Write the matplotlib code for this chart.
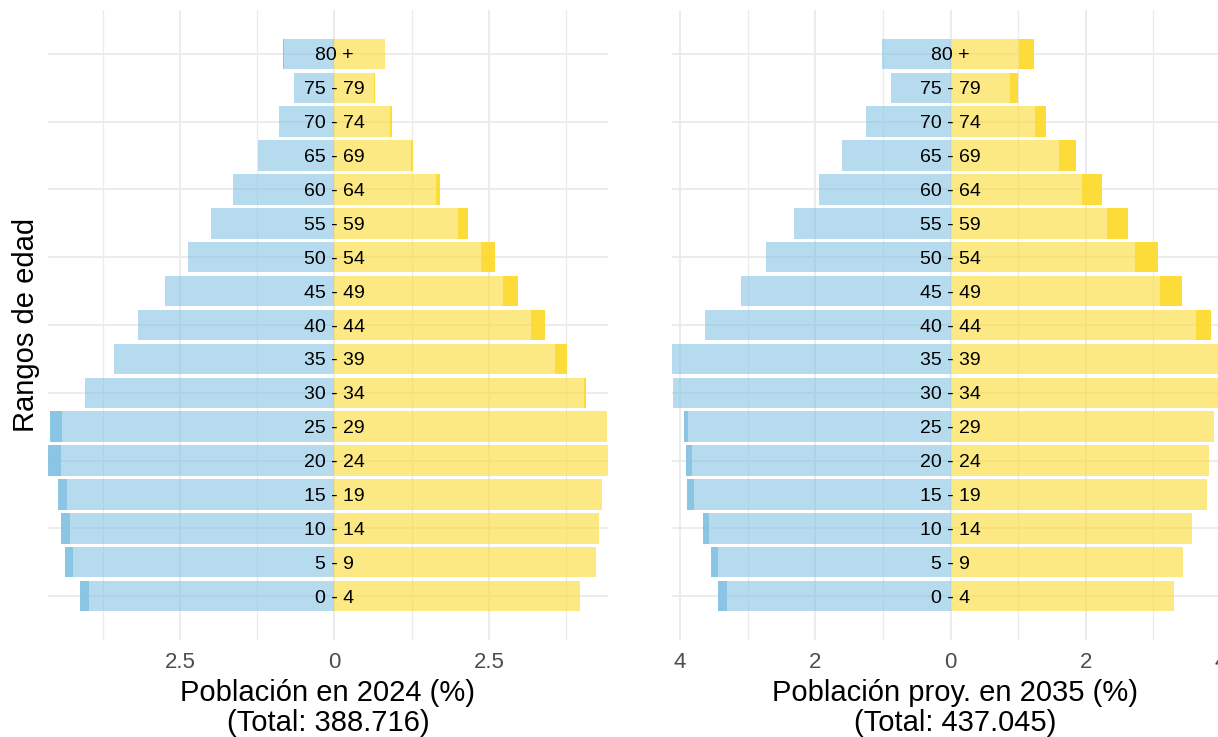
import numpy as np
import matplotlib.pyplot as plt

plt.rcParams['font.family'] = ['Liberation Sans', 'DejaVu Sans']

grupos = ['0 - 4', '5 - 9', '10 - 14', '15 - 19', '20 - 24', '25 - 29', '30 - 34',
          '35 - 39', '40 - 44', '45 - 49', '50 - 54', '55 - 59', '60 - 64',
          '65 - 69', '70 - 74', '75 - 79', '80 +']

# porcentajes sobre el total de cada año
hombres_2024 = [4.124, 4.366, 4.430, 4.478, 4.640, 4.608, 4.040, 3.570, 3.180,
                2.737, 2.370, 1.995, 1.645, 1.240, 0.900, 0.648, 0.833]
mujeres_2024 = [3.970, 4.230, 4.290, 4.330, 4.430, 4.420, 4.074, 3.766, 3.410,
                2.973, 2.600, 2.163, 1.710, 1.272, 0.935, 0.658, 0.818]
hombres_2035 = [3.440, 3.540, 3.660, 3.900, 3.910, 3.940, 4.100, 4.120, 3.627,
                3.095, 2.726, 2.313, 1.944, 1.604, 1.250, 0.875, 1.014]
mujeres_2035 = [3.300, 3.440, 3.570, 3.790, 3.820, 3.890, 4.180, 4.250, 3.850,
                3.421, 3.067, 2.623, 2.239, 1.855, 1.411, 0.998, 1.239]

titulos = ['Población en 2024 (%)\n(Total: 388.716)',
           'Población proy. en 2035 (%)\n(Total: 437.045)']

azul = '#86C3E3'
amarillo = '#FDDB33'
gris_grid = '#EBEBEB'

W, H = 1218, 737
fig = plt.figure(figsize=(W / 100, H / 100), dpi=100)

def caja(x0, x1, y0, y1):
    return [x0 / W, 1 - y1 / H, (x1 - x0) / W, (y1 - y0) / H]

ax1 = fig.add_axes(caja(48, 608, 10, 640))
ax2 = fig.add_axes(caja(672, 1238, 10, 640))

def piramide(ax, hom, muj, mayores, menores, titulo):
    hom = np.array(hom)
    muj = np.array(muj)
    y = np.arange(len(grupos))
    comun = np.minimum(hom, muj)
    # parte común (transparente) y exceso de cada sexo (más intenso)
    ax.barh(y, -comun, height=0.9, color=azul, alpha=0.6, linewidth=0, zorder=2)
    ax.barh(y, -(hom - comun), left=-comun, height=0.9, color=azul, alpha=0.97,
            linewidth=0, zorder=2)
    ax.barh(y, comun, height=0.9, color=amarillo, alpha=0.6, linewidth=0, zorder=2)
    ax.barh(y, muj - comun, left=comun, height=0.9, color=amarillo, alpha=0.97,
            linewidth=0, zorder=2)
    for yi, g in zip(y, grupos):
        ax.text(0, yi, g, ha='center', va='center_baseline', fontsize=14,
                color='black', zorder=3)

    ax.set_xlim(-hom.max(), muj.max())
    ax.set_ylim(-1.295, len(grupos) - 1 + 1.295)
    ax.set_xticks(mayores)
    ax.set_xticklabels([('%g' % abs(v)) for v in mayores])
    ax.set_xticks(menores, minor=True)
    ax.set_yticks(np.arange(0, len(grupos), 2))
    ax.set_yticklabels([])
    ax.grid(which='major', color=gris_grid, linewidth=1.3, zorder=0)
    ax.grid(which='minor', axis='x', color=gris_grid, linewidth=0.9, zorder=0)
    ax.set_axisbelow(True)
    ax.tick_params(which='both', length=0)
    ax.tick_params(axis='x', labelsize=16, labelcolor='#4D4D4D', pad=9)
    for s in ax.spines.values():
        s.set_visible(False)
    ax.set_xlabel(titulo, fontsize=21, linespacing=1.1, labelpad=4)

piramide(ax1, hombres_2024, mujeres_2024, [-2.5, 0, 2.5], [-3.75, -1.25, 1.25, 3.75], titulos[0])
piramide(ax2, hombres_2035, mujeres_2035, [-4, -2, 0, 2, 4], [-3, -1, 1, 3], titulos[1])

ax1.set_ylabel('Rangos de edad', fontsize=21, labelpad=2)

fig.savefig('out.png', dpi=100)
